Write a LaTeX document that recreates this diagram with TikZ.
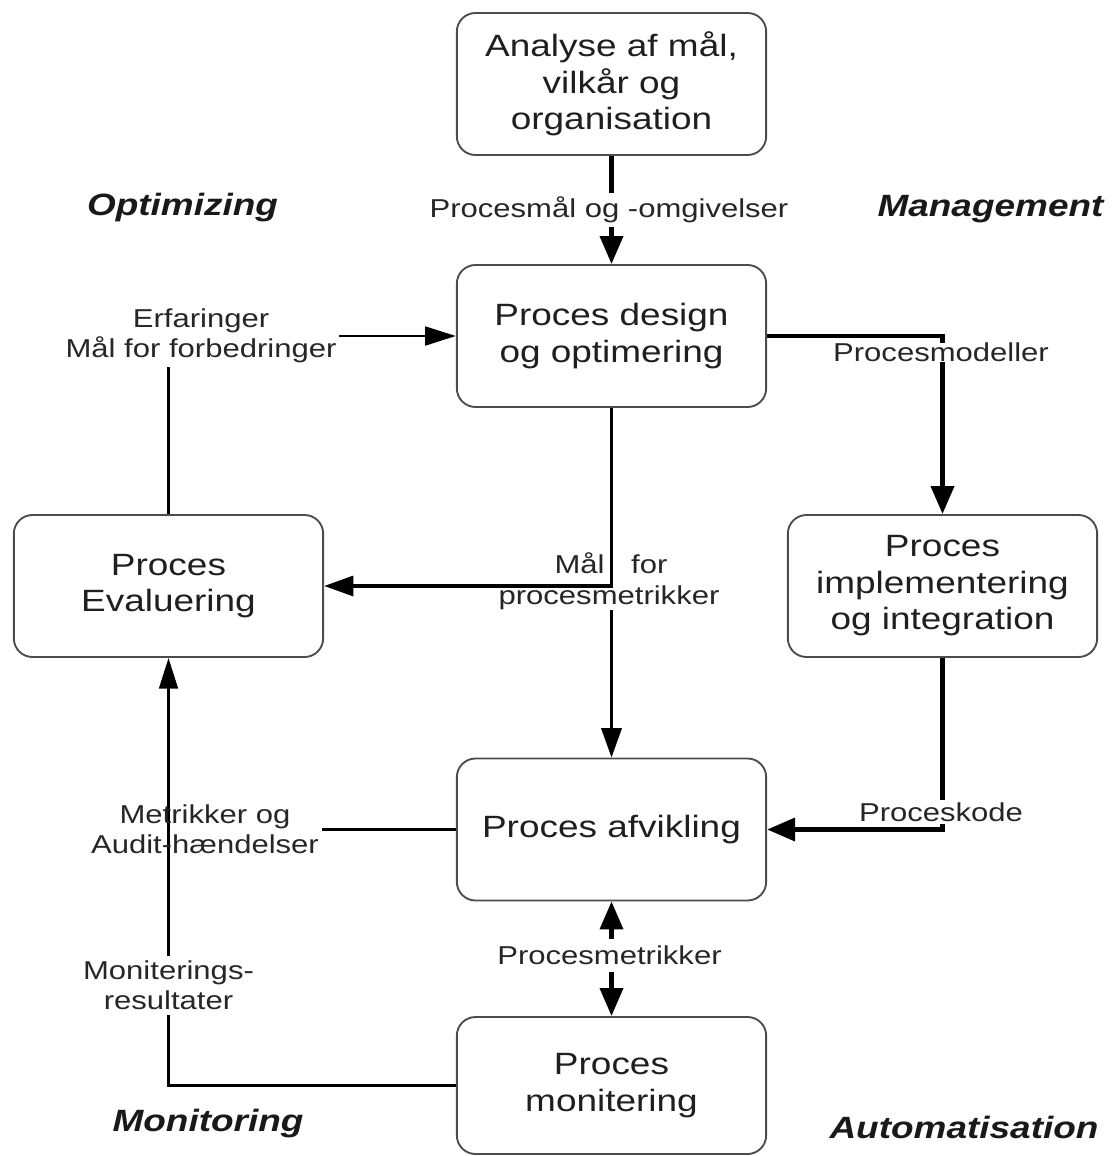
\documentclass[tikz,border=0pt]{standalone}
\usepackage{fontspec}
\setmainfont{Liberation Sans}[FakeStretch=1.2]
\usetikzlibrary{arrows.meta}
\begin{document}
\begin{tikzpicture}[x=0.75pt,y=-0.75pt,
  box/.style={draw=black!70, line width=1.4pt, rounded corners=14pt,
    minimum width=232pt, minimum height=106.5pt, align=center, inner sep=0pt,
    text=black!88, font=\fontsize{23.1}{27.4}\selectfont},
  lbl/.style={align=center, inner xsep=2pt, inner ysep=0pt, text=black!85,
    font=\fontsize{19.4}{22.5}\selectfont},
  wlbl/.style={lbl, fill=white},
  head/.style={anchor=base, inner sep=0pt, text=black!90,
    font=\fontsize{23.1}{27}\selectfont\bfseries\itshape},
  bigarr/.style={line width=3.6pt, -{Triangle[length=21pt,width=17pt]}},
  bigdbl/.style={line width=3.6pt, {Triangle[length=21pt,width=17pt]}-{Triangle[length=21pt,width=17pt]}},
  midarr/.style={line width=2.6pt, -{Triangle[length=22pt,width=15pt]}},
  thinarr/.style={line width=2pt, -{Triangle[length=23pt,width=14pt]}},
  thinline/.style={line width=2pt}
]
\useasboundingbox (0,0) rectangle (1112,1156);

% boxes
\node[box] (A) at (611.5,84) {Analyse af mål,\\vilkår og\\organisation};
\node[box] (D) at (611.5,336) {Proces design\\og optimering};
\node[box] (E) at (168.5,586) {Proces\\Evaluering};
\node[box] (I) at (942.5,586) {Proces\\implementering\\og integration};
\node[box] (F) at (611.5,829.5) {Proces afvikling};
\node[box, minimum height=102.75pt] (M) at (611.5,1085.5) {Proces\\monitering};

% headings
\node[head] (h1) at (182.5,215) {Optimizing};
\node[head] (h2) at (990.5,216) {Management};
\node[head] (h3) at (208,1131) {Monitoring};
\node[head] (h4) at (964,1138) {Automatisation};

% connectors
\draw[bigarr] (A.south) -- (D.north);
\node[wlbl, inner ysep=3pt] (l1) at (609,210) {Procesmål og -omgivelser};

\draw[thinarr] (E.north) |- (D.west);
\node[wlbl, inner ysep=3pt] (l2) at (201,335.5) {Erfaringer\\Mål for forbedringer};

\draw[bigarr] (D.east) -| (I.north);
\node[wlbl] (l3) at (941,352) {Procesmodeller};

\draw[midarr] (D.south) -- (F.north);
\node[wlbl] (l4b) at (609,598) {procesmetrikker};
\draw[midarr] (D.south) |- (E.east);
\node[lbl] (l4a) at (611,563.5) {Mål\hspace{20pt}for};

\draw[bigarr] (I.south) |- (F.east);
\node[wlbl, inner ysep=2pt] (l5) at (941,812.3) {Proceskode};

\draw[thinarr] (M.west) -| (E.south);
\node[wlbl, inner ysep=4pt] (l7) at (168.5,985.5) {Moniterings-\\resultater};

\node[lbl] (l6) at (205,829.5) {Metrikker og\\Audit-hændelser};
\draw[thinline] (F.west) -- (l6.east);

\draw[bigdbl] (F.south) -- (M.north);
\node[wlbl, inner ysep=5pt] (l8) at (609.5,955.5) {Procesmetrikker};
\end{tikzpicture}
\end{document}
